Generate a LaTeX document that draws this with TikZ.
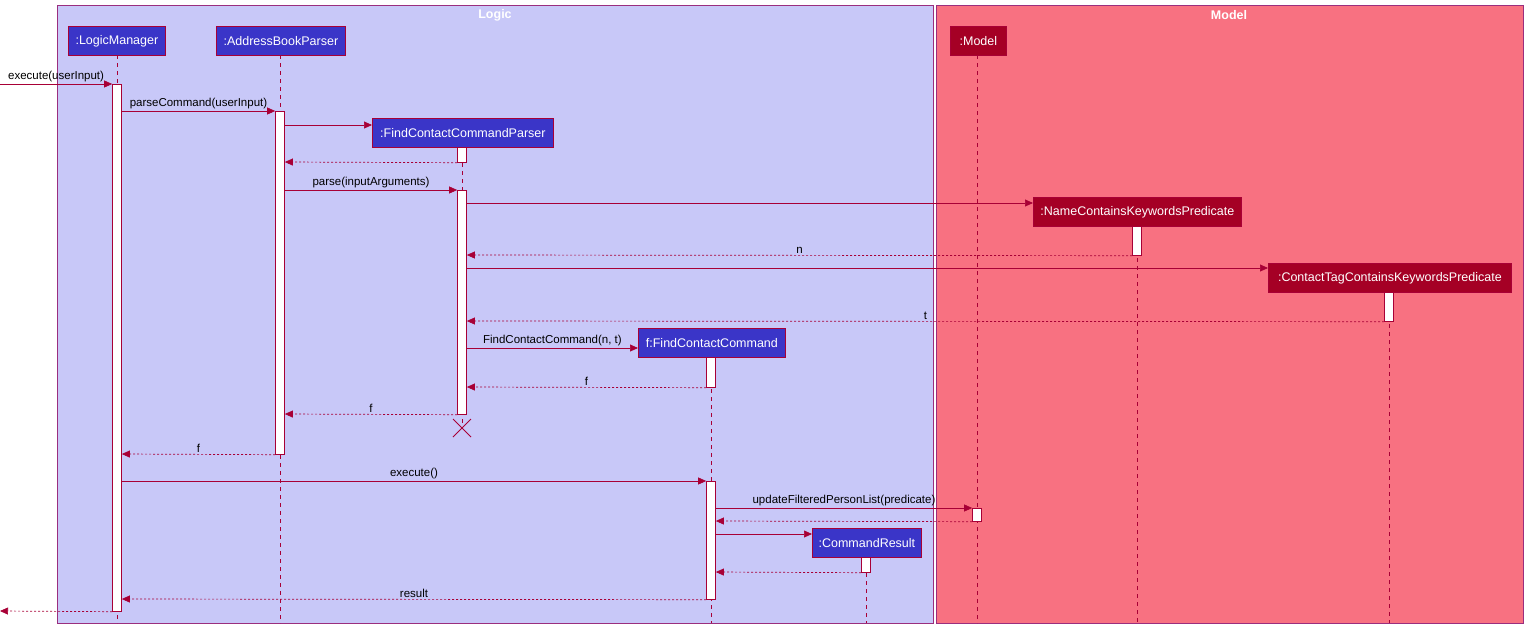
\documentclass[tikz,border=0pt]{standalone}
\usepackage{fontspec}
\setmainfont{Liberation Sans}
\usetikzlibrary{arrows.meta}
\definecolor{pumlred}{HTML}{A80036}
\definecolor{logicbg}{HTML}{C8C8F8}
\definecolor{modelbg}{HTML}{F87181}
\definecolor{logicpt}{HTML}{3A35C8}
\definecolor{modelpt}{HTML}{A50025}
\definecolor{grpline}{HTML}{9A2E7E}
\tikzset{
  grp/.style={draw=grpline, line width=0.8pt},
  part/.style={rectangle, draw=pumlred, line width=0.8pt, fill=logicpt, text=white, minimum height=29pt, inner xsep=4pt, font=\fontsize{12.5}{14}\selectfont, anchor=north west},
  mpart/.style={part, fill=modelpt},
  life/.style={draw=pumlred, dash pattern=on 4pt off 4pt, line width=0.6pt},
  act/.style={rectangle, draw=pumlred, fill=white, line width=0.7pt, minimum width=9pt, inner sep=0pt, anchor=north},
  msg/.style={draw=pumlred, line width=0.7pt, -{Triangle[length=8pt,width=7pt]}},
  ret/.style={msg, dash pattern=on 2pt off 2pt},
  lbl/.style={font=\fontsize{11.5}{13}\selectfont, inner sep=1.5pt, anchor=south}
}
\begin{document}
\begin{tikzpicture}[x=1pt,y=-1pt]
\useasboundingbox (0,0) rectangle (1527,633);

% boxes
\filldraw[grp, fill=logicbg] (57,5) rectangle (933,623);
\filldraw[grp, fill=modelbg] (936,5) rectangle (1523,623);
\node[font=\bfseries\fontsize{12.5}{14}\selectfont, text=white] at (495,15) {Logic};
\node[font=\bfseries\fontsize{12.5}{14}\selectfont, text=white] at (1229,15) {Model};

% lifelines
\draw[life] (117,55) -- (117,623);
\draw[life] (280,55) -- (280,623);
\draw[life] (462,147) -- (462,428);
\draw[life] (711,357) -- (711,623);
\draw[life] (866,557) -- (866,623);
\draw[life] (977,55) -- (977,623);
\draw[life] (1137,226) -- (1137,623);
\draw[life] (1389,292) -- (1389,623);

% participants
\node[part, minimum width=97pt] (lm) at (68,26) {:LogicManager};
\node[part, minimum width=129pt] (abp) at (216,26) {:AddressBookParser};
\node[part, minimum width=181pt] (fccp) at (372,118) {:FindContactCommandParser};
\node[part, minimum width=147pt] (fcc) at (638,328) {f:FindContactCommand};
\node[part, minimum width=109pt] (cr) at (812,528) {:CommandResult};
\node[mpart, minimum width=56pt] (model) at (950,26) {:Model};
\node[mpart, minimum width=208pt] (nckp) at (1033,197) {:NameContainsKeywordsPredicate};
\node[mpart, minimum width=243pt] (ctckp) at (1268,263) {:ContactTagContainsKeywordsPredicate};

% activations
\node[act, minimum height=527pt] (lmA) at (117,84) {};
\node[act, minimum height=343pt] (abpA) at (280,111) {};
\node[act, minimum height=15pt] (fccpA) at (462,147) {};
\node[act, minimum height=224pt] (fccpB) at (462,190) {};
\node[act, minimum height=29pt] (nckpA) at (1137,226) {};
\node[act, minimum height=29pt] (ctckpA) at (1389,292) {};
\node[act, minimum height=30pt] (fccA) at (711,357) {};
\node[act, minimum height=118pt] (fccB) at (711,481) {};
\node[act, minimum height=13pt] (modelA) at (977,508) {};
\node[act, minimum height=15pt] (crA) at (866,557) {};
\coordinate (in) at (0,84);
\coordinate (out) at (0,611);

% messages
\draw[msg] (in) -- (lmA.north west) node[lbl, pos=0.5] {execute(userInput)};
\draw[msg] (lmA.east |- 0,111) -- (abpA.north west) node[lbl, pos=0.5] {parseCommand(userInput)};
\draw[msg] (abpA.east |- 0,125) -- (fccp.west |- 0,125);
\draw[ret] (fccpA.south west) -- (abpA.east |- 0,162);
\draw[msg] (abpA.east |- 0,190) -- (fccpB.north west) node[lbl, pos=0.5] {parse(inputArguments)};
\draw[msg] (fccpB.east |- 0,203) -- (nckp.west |- 0,203);
\draw[ret] (nckpA.south west) -- (fccpB.east |- 0,255) node[lbl, pos=0.5] {n};
\draw[msg] (fccpB.east |- 0,268) -- (ctckp.west |- 0,268);
\draw[ret] (ctckpA.south west) -- (fccpB.east |- 0,321) node[lbl, pos=0.5] {t};
\draw[msg] (fccpB.east |- 0,348) -- (fcc.west |- 0,348) node[lbl, pos=0.5] {FindContactCommand(n, t)};
\draw[ret] (fccA.south west) -- (fccpB.east |- 0,387) node[lbl, pos=0.5] {f};
\draw[ret] (fccpB.south west) -- (abpA.east |- 0,414) node[lbl, pos=0.5] {f};
\draw[draw=pumlred, line width=1pt] (453,419) -- (471,437) (471,419) -- (453,437);
\draw[ret] (abpA.south west) -- (lmA.east |- 0,454) node[lbl, pos=0.5] {f};
\draw[msg] (lmA.east |- 0,481) -- (fccB.north west) node[lbl, pos=0.5] {execute()};
\draw[msg] (fccB.east |- 0,508) -- (modelA.north west) node[lbl, pos=0.5] {updateFilteredPersonList(predicate)};
\draw[ret] (modelA.south west) -- (fccB.east |- 0,521);
\draw[msg] (fccB.east |- 0,534) -- (cr.west |- 0,534);
\draw[ret] (crA.south west) -- (fccB.east |- 0,572);
\draw[ret] (fccB.south west) -- (lmA.east |- 0,599) node[lbl, pos=0.5] {result};
\draw[ret] (lmA.south west) -- (out);
\end{tikzpicture}
\end{document}
